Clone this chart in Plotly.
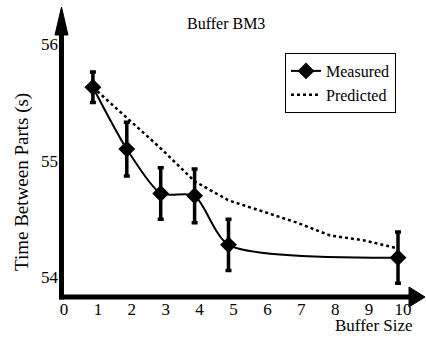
import plotly.graph_objects as go

# ---- data ----
measured_sizes = [1, 2, 3, 4, 5, 10]
measured_times = [55.63, 55.10, 54.72, 54.70, 54.28, 54.17]
measured_err = [0.13, 0.23, 0.22, 0.23, 0.22, 0.22]

predicted_sizes = [1, 2, 3, 4, 5, 6, 7, 8, 9, 10]
predicted_times = [55.63, 55.365, 55.107, 54.824, 54.661, 54.567, 54.472, 54.36, 54.318, 54.249]

x_ticks = [0, 1, 2, 3, 4, 5, 6, 7, 8, 9, 10]
x_tick_labels = [str(v) for v in x_ticks]
y_ticks = [54, 55, 56]
y_tick_labels = ["54", "55", "56"]

FONT = "Liberation Serif, Times New Roman, DejaVu Serif, serif"
W, H = 426, 337
L, R, T, B = 59, 0, 8, 40
PW, PH = W - L - R, H - T - B
UNIT = 33.9  # px per buffer-size unit
X0 = 0.0
X1 = X0 + PW / UNIT


def px(xp):
    return (xp - L) / PW


def py(yp):
    return (H - B - yp) / PH


fig = go.Figure()
fig.add_trace(go.Scatter(
    x=measured_sizes, y=measured_times, name="Measured",
    mode="lines+markers",
    line=dict(color="black", width=2, shape="spline", smoothing=0.7),
    marker=dict(symbol="diamond", size=13, color="black"),
    error_y=dict(type="data", array=measured_err, visible=True,
                 color="black", thickness=3.5, width=3),
))
fig.add_trace(go.Scatter(
    x=predicted_sizes, y=predicted_times, name="Predicted",
    mode="lines",
    line=dict(color="black", width=2.5, dash="dot"),
))

shapes = [
    # y-axis line
    dict(type="line", xref="paper", yref="paper",
         x0=px(61.5), x1=px(61.5), y0=py(299.5), y1=py(30),
         line=dict(color="black", width=5)),
    # x-axis line
    dict(type="line", xref="paper", yref="paper",
         x0=px(59), x1=px(412), y0=py(297), y1=py(297),
         line=dict(color="black", width=5)),
    # y-axis arrowhead
    dict(type="path", xref="paper", yref="paper",
         path=f"M {px(55)},{py(35)} L {px(61.5)},{py(7)} L {px(68)},{py(35)} Z",
         fillcolor="black", line=dict(color="black", width=1)),
    # x-axis arrowhead
    dict(type="path", xref="paper", yref="paper",
         path=f"M {px(409)},{py(287)} L {px(425)},{py(297)} L {px(409)},{py(307)} Z",
         fillcolor="black", line=dict(color="black", width=1)),
]

annotations = [
    dict(text="Buffer BM3", xref="paper", yref="paper", x=px(226), y=py(23),
         xanchor="center", yanchor="middle", showarrow=False,
         font=dict(family=FONT, size=16, color="black")),
    dict(text="Time Between Parts (s)", xref="paper", yref="paper", x=px(22), y=py(182),
         xanchor="center", yanchor="middle", showarrow=False, textangle=-90,
         font=dict(family=FONT, size=19, color="black")),
    dict(text="Buffer Size", xref="paper", yref="paper", x=px(374), y=py(325),
         xanchor="center", yanchor="middle", showarrow=False,
         font=dict(family=FONT, size=17, color="black")),
]

fig.update_layout(
    width=W, height=H,
    margin=dict(l=L, r=R, t=T, b=B, autoexpand=False),
    paper_bgcolor="white", plot_bgcolor="white",
    font=dict(family=FONT, size=17, color="black"),
    showlegend=True,
    legend=dict(x=px(285), y=py(53), xanchor="left", yanchor="top",
                bordercolor="black", borderwidth=1, bgcolor="white",
                font=dict(family=FONT, size=16, color="black"),
                tracegroupgap=0, itemwidth=30),
    shapes=shapes,
    annotations=annotations,
    xaxis=dict(range=[X0, X1], tickvals=x_ticks, ticktext=x_tick_labels,
               showline=False, showgrid=False, automargin=False,
               zeroline=False, ticks="", ticklabelshift=5,
               tickfont=dict(family=FONT, size=17, color="black")),
    yaxis=dict(range=[53.833, 56.309], tickvals=y_ticks, ticktext=y_tick_labels,
               showline=False, showgrid=False, automargin=False,
               zeroline=False, ticks="",
               tickfont=dict(family=FONT, size=17, color="black")),
)

fig.write_html("out.html", config={"displayModeBar": False},
               post_script="document.body.style.margin='0';")
